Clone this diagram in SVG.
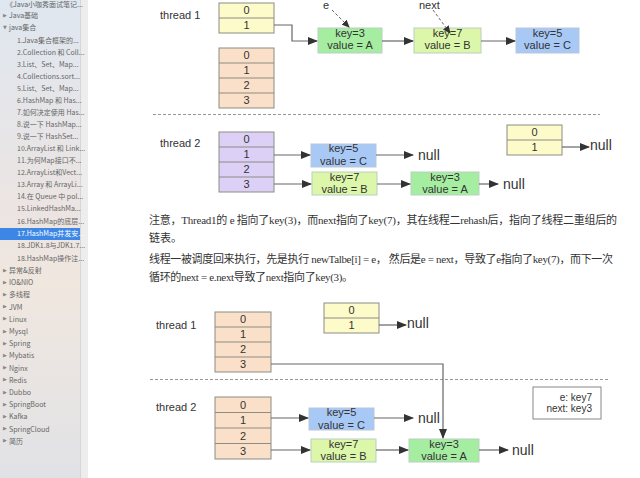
<svg xmlns="http://www.w3.org/2000/svg" width="640" height="478" viewBox="0 0 640 478">
<defs>
<linearGradient id="sb" x1="0" y1="0" x2="0" y2="1">
<stop offset="0" stop-color="#dfe7f0"/>
<stop offset="0.45" stop-color="#ece4e2"/>
<stop offset="0.6" stop-color="#f0e7df"/>
<stop offset="1" stop-color="#e1e2e6"/>
</linearGradient>
<marker id="ah" markerWidth="10" markerHeight="8" refX="9" refY="4" orient="auto" markerUnits="userSpaceOnUse"><path d="M0,0 L10,4 L0,8 z" fill="#333"/></marker>
<marker id="ahs" markerWidth="8" markerHeight="7" refX="7" refY="3.5" orient="auto" markerUnits="userSpaceOnUse"><path d="M0,0 L8,3.5 L0,7 z" fill="#333"/></marker>
</defs>
<style>
.sb{font-family:"Noto Sans CJK SC","Liberation Sans",sans-serif;font-size:7px;fill:#666}
.sbh{font-family:"Noto Sans CJK SC","Liberation Sans",sans-serif;font-size:7px;fill:#fff}
.tri{font-family:"DejaVu Sans",sans-serif;font-size:5px;fill:#888}
.lbl{font-family:"Liberation Sans",sans-serif;font-size:11px;fill:#333}
.ctr{font-family:"Liberation Sans",sans-serif;font-size:11px;fill:#333;text-anchor:middle}
.nul{font-family:"Liberation Sans",sans-serif;font-size:14px;fill:#333}
.para{font-family:"Liberation Serif","Noto Sans CJK SC",serif;font-size:11px;fill:#333}
.yel{fill:#fdfbca;stroke:#8c8c84;stroke-width:1}
.org{fill:#fbe0c9;stroke:#8c8c84;stroke-width:1}
.pur{fill:#ddd0f6;stroke:#8c8c84;stroke-width:1}
.div{stroke:#8c8c84;stroke-width:1}
.na{fill:#a5eda1;stroke:#b9cfc0;stroke-width:1}
.nb{fill:#dcf7a9;stroke:#b9cfc0;stroke-width:1}
.nc{fill:#a8c8f6;stroke:#b9c8d8;stroke-width:1}
.conn{fill:none;stroke:#666;stroke-width:1.2}
.dash{fill:none;stroke:#666;stroke-width:1;stroke-dasharray:3 2}
.sep{stroke:#999;stroke-width:1;stroke-dasharray:3 2}
</style>
<rect x="0" y="0" width="640" height="478" fill="#fff"/>
<g id="sidebar">
<rect x="0" y="0" width="80" height="478" fill="url(#sb)"/>
<rect x="80" y="0" width="8" height="478" fill="#ededed"/>
<line x1="80.5" y1="0" x2="80.5" y2="478" stroke="#d6d6d6"/>
<rect x="0" y="228" width="80" height="12" fill="#3c86e6"/>
<text class="sb" x="6" y="7">《Java小咖秀面试笔记...</text>
<text class="tri" x="3" y="17">▶</text><text class="sb" x="9" y="18">Java基础</text>
<text class="tri" x="3" y="29">▼</text><text class="sb" x="9" y="30">java集合</text>
<text class="sb" x="17" y="42.5">1.Java集合框架的...</text>
<text class="sb" x="17" y="54.5">2.Collection 和 Coll...</text>
<text class="sb" x="17" y="66.5">3.List、Set、Map...</text>
<text class="sb" x="17" y="78.5">4.Collections.sort...</text>
<text class="sb" x="17" y="90.5">5.List、Set、Map...</text>
<text class="sb" x="17" y="102.5">6.HashMap 和 Has...</text>
<text class="sb" x="17" y="114.5">7.如何决定使用 Has...</text>
<text class="sb" x="17" y="126.5">8.说一下 HashMap...</text>
<text class="sb" x="17" y="138.5">9.说一下 HashSet...</text>
<text class="sb" x="17" y="150.5">10.ArrayList 和 Link...</text>
<text class="sb" x="17" y="162.5">11.为何Map接口不...</text>
<text class="sb" x="17" y="175">12.ArrayList和Vect...</text>
<text class="sb" x="17" y="187">13.Array 和 ArrayLi...</text>
<text class="sb" x="17" y="199">14.在 Queue 中 pol...</text>
<text class="sb" x="17" y="211">15.LinkedHashMa...</text>
<text class="sb" x="17" y="223.5">16.HashMap的底层...</text>
<text class="sbh" x="17" y="236">17.HashMap并发安...</text>
<text class="sb" x="17" y="248">18.JDK1.8与JDK1.7...</text>
<text class="sb" x="17" y="260.5">18.HashMap操作注...</text>
<text class="tri" x="3" y="272">▶</text><text class="sb" x="9" y="273">异常&amp;反射</text>
<text class="tri" x="3" y="284">▶</text><text class="sb" x="9" y="285">IO&amp;NIO</text>
<text class="tri" x="3" y="296">▶</text><text class="sb" x="9" y="297">多线程</text>
<text class="tri" x="3" y="308">▶</text><text class="sb" x="9" y="309.5">JVM</text>
<text class="tri" x="3" y="320">▶</text><text class="sb" x="9" y="321.5">Linux</text>
<text class="tri" x="3" y="333">▶</text><text class="sb" x="9" y="334">Mysql</text>
<text class="tri" x="3" y="345">▶</text><text class="sb" x="9" y="346">Spring</text>
<text class="tri" x="3" y="357">▶</text><text class="sb" x="9" y="358">Mybatis</text>
<text class="tri" x="3" y="369">▶</text><text class="sb" x="9" y="370.5">Nginx</text>
<text class="tri" x="3" y="381">▶</text><text class="sb" x="9" y="382.5">Redis</text>
<text class="tri" x="3" y="394">▶</text><text class="sb" x="9" y="395">Dubbo</text>
<text class="tri" x="3" y="406">▶</text><text class="sb" x="9" y="407">SpringBoot</text>
<text class="tri" x="3" y="418">▶</text><text class="sb" x="9" y="419">Kafka</text>
<text class="tri" x="3" y="430">▶</text><text class="sb" x="9" y="431.5">SpringCloud</text>
<text class="tri" x="3" y="442">▶</text><text class="sb" x="9" y="443.5">简历</text>
</g>

<!-- Diagram 1 -->
<g id="d1-thread1-label"><text class="lbl" x="160" y="19">thread 1</text></g>
<g id="d1-t1-table">
<rect class="yel" x="219" y="3" width="55" height="30"/>
<line class="div" x1="219" y1="18" x2="274" y2="18"/>
<text class="ctr" x="246.5" y="14">0</text><text class="ctr" x="246.5" y="29">1</text>
</g>
<g id="d1-t1-newtable">
<rect class="org" x="219" y="48" width="55" height="60"/>
<line class="div" x1="219" y1="63" x2="274" y2="63"/>
<line class="div" x1="219" y1="78" x2="274" y2="78"/>
<line class="div" x1="219" y1="93" x2="274" y2="93"/>
<text class="ctr" x="246.5" y="59">0</text><text class="ctr" x="246.5" y="74">1</text><text class="ctr" x="246.5" y="89">2</text><text class="ctr" x="246.5" y="104">3</text>
</g>
<g id="d1-nodeA"><rect class="na" x="318" y="28" width="64" height="25"/><text class="ctr" x="350" y="37">key=3</text><text class="ctr" x="350" y="49">value = A</text></g>
<g id="d1-nodeB"><rect class="nb" x="414" y="28" width="67" height="25"/><text class="ctr" x="447.5" y="37">key=7</text><text class="ctr" x="447.5" y="49">value = B</text></g>
<g id="d1-nodeC"><rect class="nc" x="516" y="28" width="63" height="25"/><text class="ctr" x="547.5" y="37">key=5</text><text class="ctr" x="547.5" y="49">value = C</text></g>
<g id="d1-e"><text class="lbl" x="323" y="8.5">e</text></g>
<g id="d1-next"><text class="lbl" x="419" y="8.5">next</text></g>

<g id="d1-thread2-label"><text class="lbl" x="160" y="147">thread 2</text></g>
<g id="d1-t2-table">
<rect class="pur" x="219" y="132" width="55" height="60"/>
<line class="div" x1="219" y1="147" x2="274" y2="147"/>
<line class="div" x1="219" y1="162" x2="274" y2="162"/>
<line class="div" x1="219" y1="177" x2="274" y2="177"/>
<text class="ctr" x="246.5" y="143">0</text><text class="ctr" x="246.5" y="158">1</text><text class="ctr" x="246.5" y="173">2</text><text class="ctr" x="246.5" y="188">3</text>
</g>
<g id="d1-t2-nodeC"><rect class="nc" x="311" y="144" width="65" height="23"/><text class="ctr" x="343.5" y="152">key=5</text><text class="ctr" x="343.5" y="165">value = C</text></g>
<g id="d1-t2-nodeB"><rect class="nb" x="312" y="172" width="65" height="23"/><text class="ctr" x="344.5" y="180.5">key=7</text><text class="ctr" x="344.5" y="193">value = B</text></g>
<g id="d1-t2-nodeA"><rect class="na" x="411" y="172" width="68" height="23"/><text class="ctr" x="445" y="180.5">key=3</text><text class="ctr" x="445" y="193">value = A</text></g>
<g id="d1-t2-null1"><text class="nul" x="418" y="160">null</text></g>
<g id="d1-t2-null2"><text class="nul" x="503" y="189">null</text></g>
<g id="d1-t1-oldtable">
<rect class="yel" x="507" y="125" width="55" height="30"/>
<line class="div" x1="507" y1="140" x2="562" y2="140"/>
<text class="ctr" x="534.5" y="136">0</text><text class="ctr" x="534.5" y="151">1</text>
</g>
<g id="d1-null3"><text class="nul" x="590" y="150">null</text></g>

<!-- Text -->
<g id="text">
<text class="para" x="149" y="224" textLength="468">注意，Thread1的 e 指向了key(3)，而next指向了key(7)，其在线程二rehash后，指向了线程二重组后的</text>
<text class="para" x="149" y="242">链表。</text>
<text class="para" x="149" y="263" textLength="464">线程一被调度回来执行，先是执行 newTalbe[i] = e， 然后是e = next，导致了e指向了key(7)，而下一次</text>
<text class="para" x="149" y="281" textLength="204">循环的next = e.next导致了next指向了key(3)。</text>
</g>

<!-- Diagram 2 -->
<g id="d2-thread1-label"><text class="lbl" x="156" y="329">thread 1</text></g>
<g id="d2-t1-newtable">
<rect class="org" x="215" y="312" width="56" height="60"/>
<line class="div" x1="215" y1="327" x2="271" y2="327"/>
<line class="div" x1="215" y1="342" x2="271" y2="342"/>
<line class="div" x1="215" y1="357" x2="271" y2="357"/>
<text class="ctr" x="243" y="323">0</text><text class="ctr" x="243" y="338">1</text><text class="ctr" x="243" y="353">2</text><text class="ctr" x="243" y="368">3</text>
</g>
<g id="d2-t1-oldtable">
<rect class="yel" x="324" y="303" width="55" height="30"/>
<line class="div" x1="324" y1="318" x2="379" y2="318"/>
<text class="ctr" x="351.5" y="314">0</text><text class="ctr" x="351.5" y="329">1</text>
</g>
<g id="d2-null1"><text class="nul" x="407" y="328">null</text></g>

<g id="d2-thread2-label"><text class="lbl" x="156" y="411">thread 2</text></g>
<g id="d2-t2-table">
<rect class="org" x="215" y="397" width="56" height="62"/>
<line class="div" x1="215" y1="412.5" x2="271" y2="412.5"/>
<line class="div" x1="215" y1="428" x2="271" y2="428"/>
<line class="div" x1="215" y1="443.5" x2="271" y2="443.5"/>
<text class="ctr" x="243" y="408.5">0</text><text class="ctr" x="243" y="424">1</text><text class="ctr" x="243" y="439.5">2</text><text class="ctr" x="243" y="455">3</text>
</g>
<g id="d2-nodeC"><rect class="nc" x="309" y="408" width="65" height="22"/><text class="ctr" x="341.5" y="416">key=5</text><text class="ctr" x="341.5" y="428.5">value = C</text></g>
<g id="d2-nodeB"><rect class="nb" x="311" y="439" width="65" height="23"/><text class="ctr" x="343.5" y="447.5">key=7</text><text class="ctr" x="343.5" y="460">value = B</text></g>
<g id="d2-nodeA"><rect class="na" x="409" y="439" width="70" height="23"/><text class="ctr" x="444" y="447.5">key=3</text><text class="ctr" x="444" y="460">value = A</text></g>
<g id="d2-null2"><text class="nul" x="418" y="423">null</text></g>
<g id="d2-null3"><text class="nul" x="512" y="455">null</text></g>
<g id="d2-legend">
<rect x="533" y="387" width="68" height="32" fill="#fff" stroke="#888" stroke-width="1"/>
<text class="lbl" x="592" y="401" text-anchor="end" style="font-size:10px">e:  key7</text>
<text class="lbl" x="592" y="412" text-anchor="end" style="font-size:10px">next:  key3</text>
</g>

<g id="connectors">
<path class="conn" d="M274,25 H292 V41 H317" marker-end="url(#ah)"/>
<path class="conn" d="M382,41 H413" marker-end="url(#ah)"/>
<path class="conn" d="M481,41 H515" marker-end="url(#ah)"/>
<path class="dash" d="M332,10 L349,27" marker-end="url(#ahs)"/>
<path class="dash" d="M433,10 L450,33" marker-end="url(#ahs)"/>
<line class="sep" x1="153" y1="114.5" x2="600" y2="114.5"/>
<path class="conn" d="M274,155 H310" marker-end="url(#ah)"/>
<path class="conn" d="M376,155 H413" marker-end="url(#ah)"/>
<path class="conn" d="M274,184 H311" marker-end="url(#ah)"/>
<path class="conn" d="M377,184 H410" marker-end="url(#ah)"/>
<path class="conn" d="M479,184 H498" marker-end="url(#ah)"/>
<path class="conn" d="M562,147 H589" marker-end="url(#ah)"/>
<path class="conn" d="M379,325 H406" marker-end="url(#ah)"/>
<line class="sep" x1="150" y1="379.5" x2="608" y2="379.5"/>
<path class="conn" d="M271,364 H443 V438" marker-end="url(#ah)"/>
<path class="conn" d="M271,418 H308" marker-end="url(#ah)"/>
<path class="conn" d="M374,418 H413" marker-end="url(#ah)"/>
<path class="conn" d="M271,450 H310" marker-end="url(#ah)"/>
<path class="conn" d="M376,450 H408" marker-end="url(#ah)"/>
<path class="conn" d="M479,450 H508" marker-end="url(#ah)"/>
</g>
</svg>
